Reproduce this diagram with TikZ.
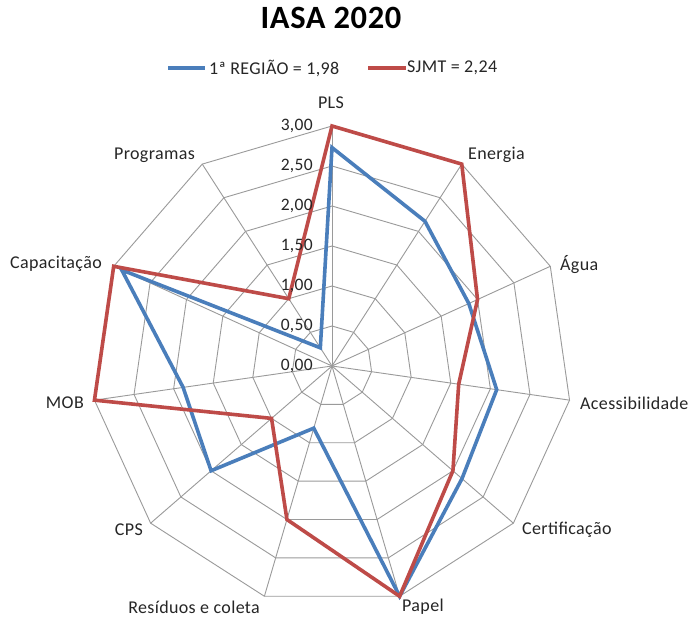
\documentclass[tikz,border=0pt]{standalone}
\usepackage{fontspec}
\setmainfont{Carlito}[LetterSpace=2]
\definecolor{serblue}{HTML}{4A7EBB}
\definecolor{serred}{HTML}{BE4B48}
\definecolor{gridgray}{HTML}{9A9A9A}
\begin{document}
\begin{tikzpicture}[x=1bp,y=1bp,
  gridline/.style={draw=gridgray,line width=0.9bp,line join=miter},
  series/.style={line width=3.6bp,line join=miter},
  axlabel/.style={font=\fontsize{18bp}{21bp}\selectfont,inner sep=0pt,text=black!85},
  ticklabel/.style={font=\fontsize{17.5bp}{20bp}\selectfont,inner sep=0pt,anchor=east,text=black!85},
  legtext/.style={font=\fontsize{18bp}{21bp}\selectfont,inner sep=0pt,anchor=west,text=black!85},
  titletext/.style={font=\fontsize{32.5bp}{38bp}\selectfont\bfseries,inner sep=0pt}]
\fill[white] (0,0) rectangle (688,618);
\path[use as bounding box] (0,0) rectangle (688,618);
\coordinate (c) at (332,252);
\begin{scope}[shift={(c)}]
  % rings
  \foreach \k in {1,...,6}{
    \pgfmathsetmacro\rr{\k*40}
    \draw[gridline] (90:\rr) \foreach \i in {1,...,10}{ -- (90-\i*360/11:\rr)} -- cycle;
  }
  % spokes
  \foreach \i in {0,...,10}{
    \coordinate (s\i) at (90-\i*360/11:240);
    \draw[gridline] (0,0) -- (s\i);
  }
  % data points
  \foreach \v [count=\i from 0] in {2.73,2.15,1.88,2.08,2.15,3,0.81,2.0,1.88,2.89,0.27}{
    \pgfmathsetmacro\rr{\v*80}
    \coordinate (b\i) at (90-\i*360/11:\rr);
  }
  \foreach \v [count=\i from 0] in {3,3,2,1.6,2,3,2,1,3,3,1}{
    \pgfmathsetmacro\rr{\v*80}
    \coordinate (r\i) at (90-\i*360/11:\rr);
  }
\end{scope}
\draw[series,serblue] (b0) -- (b1) -- (b2) -- (b3) -- (b4) -- (b5) -- (b6) -- (b7) -- (b8) -- (b9) -- (b10) -- cycle;
\draw[series,serred] (r0) -- (r1) -- (r2) -- (r3) -- (r4) -- (r5) -- (r6) -- (r7) -- (r8) -- (r9) -- (r10) -- cycle;
% tick labels
\node[ticklabel] (t0) at (313,252) {0,00};
\node[ticklabel] (t1) at (313,292) {0,50};
\node[ticklabel] (t2) at (313,332) {1,00};
\node[ticklabel] (t3) at (313,372) {1,50};
\node[ticklabel] (t4) at (313,412) {2,00};
\node[ticklabel] (t5) at (313,452) {2,50};
\node[ticklabel] (t6) at (313,492) {3,00};
% axis labels
\node[axlabel] (lpls) at (331,515) {PLS};
\node[axlabel,anchor=west] (lene) at (468,463) {Energia};
\node[axlabel,anchor=west] (lagu) at (560,353) {Água};
\node[axlabel,anchor=west] (lace) at (580,215) {Acessibilidade};
\node[axlabel,anchor=west] (lcer) at (522,88) {Certificação};
\node[axlabel,anchor=west] (lpap) at (402,11) {Papel};
\node[axlabel,anchor=east] (lres) at (260,11) {Resíduos e coleta};
\node[axlabel,anchor=east] (lcps) at (143,88) {CPS};
\node[axlabel,anchor=east] (lmob) at (84,215) {MOB};
\node[axlabel,anchor=east] (lcap) at (102,354) {Capacitação};
\node[axlabel,anchor=east] (lpro) at (195,463) {Programas};
% title
\node[titletext] (title) at (331,600) {IASA 2020};
% legend
\coordinate (lb1) at (168,550);
\coordinate (lb2) at (205,550);
\coordinate (lr1) at (368,550);
\coordinate (lr2) at (406,550);
\draw[series,serblue] (lb1) -- (lb2);
\draw[series,serred] (lr1) -- (lr2);
\node[legtext] (legb) at (209,550) {1ª REGIÃO = 1,98};
\node[legtext] (legr) at (407,550) {SJMT = 2,24};
\end{tikzpicture}
\end{document}
